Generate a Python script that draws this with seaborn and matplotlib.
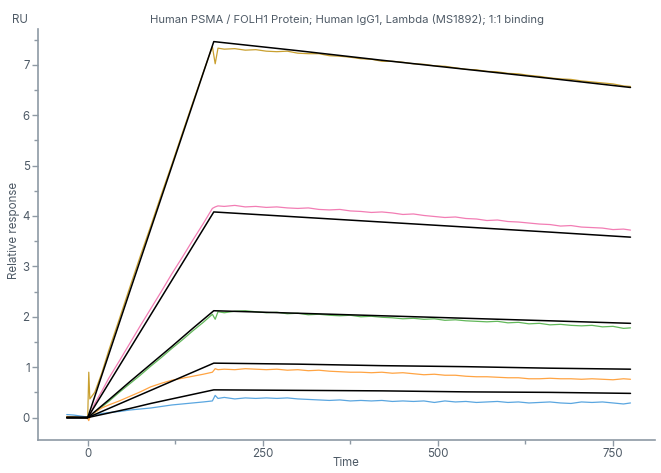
import numpy as np
import pandas as pd
import matplotlib
matplotlib.use("Agg")
import matplotlib.pyplot as plt
import seaborn as sns
from matplotlib.ticker import MultipleLocator

title = "Human PSMA / FOLH1 Protein; Human IgG1, Lambda (MS1892); 1:1 binding"
x_label = "Time"
y_label = "Relative response"
unit_label = "RU"

series_names = ["c1", "c2", "c3", "c4", "c5"]

t_data = [-30, -20, -10, 0, 1.5, 3, 10, 20, 30, 45, 60, 75, 90, 105, 120, 135, 150, 165, 178,
          182, 186, 195, 210, 225, 240, 255, 270, 285, 300, 315, 330, 345, 360, 375, 390, 405,
          420, 435, 450, 465, 480, 495, 510, 525, 540, 555, 570, 585, 600, 615, 630, 645, 660,
          675, 690, 705, 720, 735, 750, 765, 775]

gold = [0.02, 0.01, 0.00, 0.02, 0.90, 0.37, 0.50, 0.88, 1.33, 1.95, 2.58, 3.20, 3.80, 4.42, 5.02, 5.64, 6.25, 6.85, 7.36,
        7.02, 7.33, 7.31, 7.32, 7.29, 7.30, 7.27, 7.26, 7.27, 7.23, 7.22, 7.22, 7.18, 7.17, 7.15, 7.12, 7.11,
        7.07, 7.07, 7.05, 7.02, 7.01, 6.98, 6.97, 6.94, 6.91, 6.90, 6.87, 6.86, 6.83, 6.82, 6.79, 6.77, 6.74,
        6.72, 6.71, 6.68, 6.66, 6.64, 6.62, 6.58, 6.57]
pink = [0.01, 0.00, 0.01, 0.00, 0.02, 0.05, 0.28, 0.52, 0.78, 1.12, 1.47, 1.82, 2.16, 2.50, 2.85, 3.18, 3.52, 3.85, 4.15,
        4.18, 4.20, 4.19, 4.21, 4.18, 4.19, 4.17, 4.18, 4.16, 4.15, 4.16, 4.13, 4.12, 4.13, 4.10, 4.09, 4.07,
        4.08, 4.06, 4.03, 4.04, 4.01, 3.99, 3.97, 3.98, 3.95, 3.94, 3.91, 3.92, 3.89, 3.88, 3.86, 3.84, 3.83,
        3.80, 3.81, 3.78, 3.77, 3.76, 3.73, 3.74, 3.72]
green = [0.02, 0.01, 0.00, 0.00, 0.01, 0.03, 0.10, 0.21, 0.32, 0.50, 0.67, 0.84, 1.02, 1.19, 1.37, 1.54, 1.72, 1.89, 2.05,
         1.95, 2.10, 2.08, 2.11, 2.12, 2.10, 2.08, 2.09, 2.06, 2.07, 2.04, 2.05, 2.03, 2.02, 2.03, 2.00, 2.01,
         1.99, 1.98, 1.96, 1.97, 1.95, 1.96, 1.93, 1.94, 1.92, 1.91, 1.90, 1.91, 1.88, 1.89, 1.86, 1.87, 1.84,
         1.85, 1.83, 1.82, 1.83, 1.80, 1.81, 1.77, 1.78]
orange = [0.02, 0.01, 0.00, -0.02, -0.06, 0.01, 0.10, 0.19, 0.25, 0.33, 0.42, 0.51, 0.61, 0.68, 0.74, 0.78, 0.82, 0.86, 0.90,
          0.97, 0.95, 0.96, 0.95, 0.97, 0.96, 0.95, 0.96, 0.94, 0.95, 0.93, 0.94, 0.92, 0.91, 0.90, 0.90, 0.89,
          0.90, 0.88, 0.89, 0.87, 0.85, 0.86, 0.84, 0.84, 0.82, 0.81, 0.81, 0.80, 0.79, 0.79, 0.77, 0.77, 0.78,
          0.77, 0.77, 0.76, 0.77, 0.76, 0.75, 0.77, 0.76]
blue = [0.06, 0.05, 0.03, 0.01, 0.02, 0.03, 0.06, 0.08, 0.10, 0.12, 0.15, 0.17, 0.19, 0.22, 0.25, 0.27, 0.29, 0.31, 0.33,
        0.44, 0.38, 0.40, 0.37, 0.39, 0.38, 0.39, 0.38, 0.39, 0.37, 0.36, 0.35, 0.34, 0.35, 0.33, 0.34, 0.33,
        0.34, 0.32, 0.33, 0.32, 0.33, 0.30, 0.33, 0.31, 0.32, 0.30, 0.31, 0.32, 0.30, 0.31, 0.29, 0.30, 0.31,
        0.29, 0.28, 0.31, 0.30, 0.31, 0.29, 0.27, 0.29]

t_fit = [-30, 0, 30, 60, 90, 120, 150, 180, 300, 420, 540, 660, 775]
fit_gold = [0, 0, 1.25, 2.50, 3.74, 4.98, 6.22, 7.46, 7.28, 7.09, 6.91, 6.73, 6.55]
fit_pink = [0, 0, 0.68, 1.36, 2.04, 2.72, 3.40, 4.08, 3.98, 3.88, 3.78, 3.68, 3.58]
fit_green = [0, 0, 0.35, 0.71, 1.06, 1.41, 1.77, 2.12, 2.07, 2.02, 1.97, 1.92, 1.87]
fit_orange = [0, 0, 0.18, 0.36, 0.54, 0.72, 0.90, 1.08, 1.06, 1.03, 1.01, 0.98, 0.96]
fit_blue = [0, 0, 0.09, 0.18, 0.28, 0.37, 0.46, 0.55, 0.54, 0.53, 0.51, 0.50, 0.48]

x_ticks = [0, 250, 500, 750]
y_ticks = [0, 1, 2, 3, 4, 5, 6, 7]

colors = ["#c9a030", "#f27db4", "#62b85a", "#ffa443", "#5aa6e0"]

sns.set_style("ticks")
plt.rcParams["font.family"] = ["Inter", "DejaVu Sans"]

data_series = [gold, pink, green, orange, blue]
fit_series = [fit_gold, fit_pink, fit_green, fit_orange, fit_blue]

df = pd.concat([pd.DataFrame({"t": t_data, "r": v, "s": n}) for n, v in zip(series_names, data_series)],
               ignore_index=True)
dff = pd.concat([pd.DataFrame({"t": t_fit, "r": v, "s": n}) for n, v in zip(series_names, fit_series)],
                ignore_index=True)

fig = plt.figure(figsize=(6.61, 4.73), dpi=100)
ax = fig.add_axes([38 / 661, 1 - 440 / 473, (655 - 38) / 661, (440 - 29) / 473])

sns.lineplot(data=df, x="t", y="r", hue="s", palette=colors, linewidth=0.9, legend=False,
             estimator=None, sort=False, ax=ax)
sns.lineplot(data=dff, x="t", y="r", units="s", color="black", linewidth=1.1, legend=False,
             estimator=None, sort=False, ax=ax)

ax.set_xlim(-71, 810)
ax.set_ylim(-0.445, 7.71)
ax.set_xticks(x_ticks)
ax.set_yticks(y_ticks)
ax.xaxis.set_minor_locator(MultipleLocator(125))
ax.yaxis.set_minor_locator(MultipleLocator(0.5))

spine_c = "#8e99a4"
text_c = "#4e5a66"
for side in ["top", "right"]:
    ax.spines[side].set_visible(False)
for side in ["left", "bottom"]:
    ax.spines[side].set_color(spine_c)
    ax.spines[side].set_linewidth(1.2)
ax.tick_params(which="major", length=4, width=1, color=spine_c, labelcolor=text_c, labelsize=8.3, pad=2)
ax.tick_params(which="minor", length=3, width=1, color=spine_c)

ax.set_xlabel(x_label, color=text_c, fontsize=8.3)
ax.xaxis.set_label_coords((346 - 38) / (655 - 38), -(463 - 440) / (440 - 29))
ax.xaxis.label.set_va("center")
ax.set_ylabel(y_label, color=text_c, fontsize=8.3)
ax.yaxis.set_label_coords(-(38 - 14) / (655 - 38), (440 - 230) / (440 - 29))
ax.yaxis.label.set_va("center")
ax.set_title(title, color=text_c, fontsize=8.1, pad=4)
fig.text(20 / 661, 1 - 20 / 473, unit_label, color=text_c, fontsize=8.3, ha="center", va="center")

fig.savefig("out.png", dpi=100)
